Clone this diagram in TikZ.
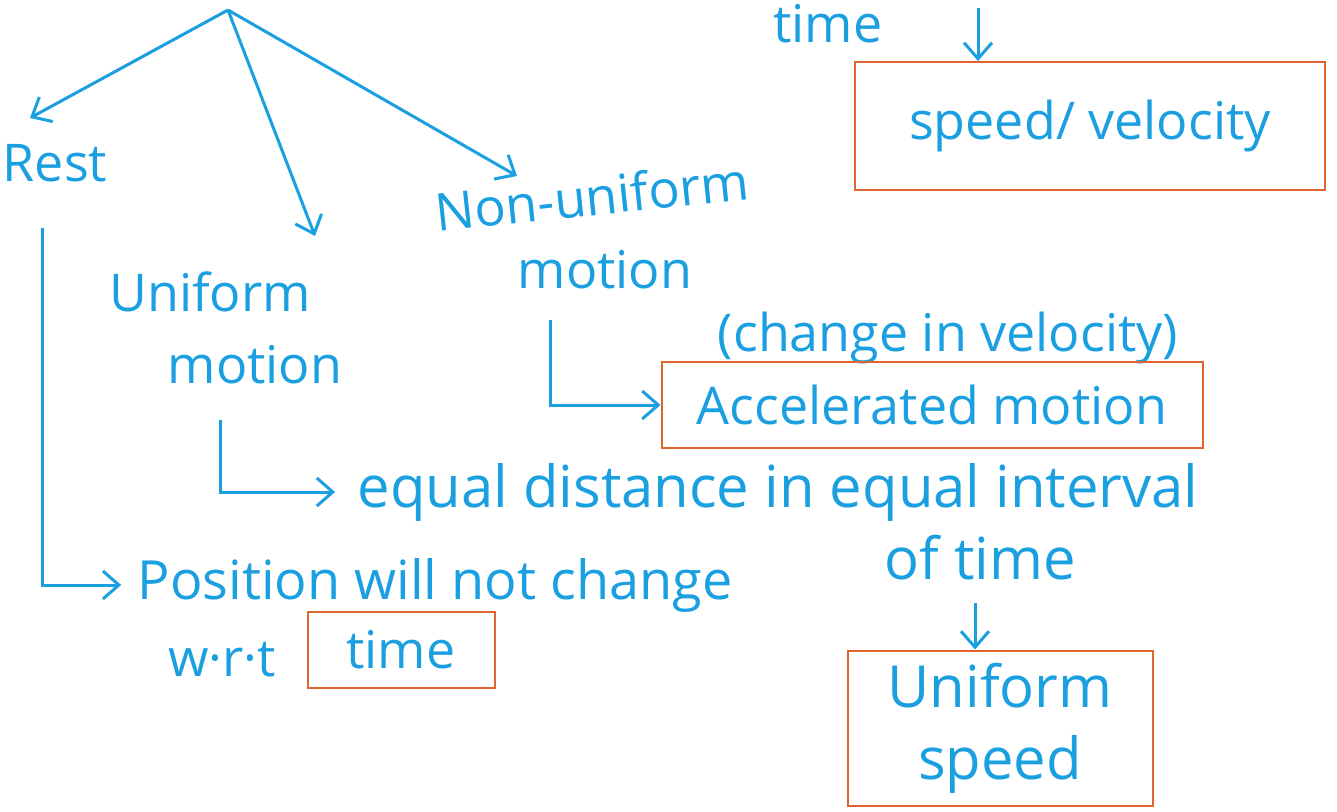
\documentclass[tikz,border=0pt]{standalone}
\usepackage{fontspec}
\setmainfont{Open Sans}
\usetikzlibrary{arrows.meta}
\definecolor{pen}{HTML}{1A9FE0}
\definecolor{marker}{HTML}{E0642E}
\begin{document}
\begin{tikzpicture}[x=0.5pt,y=-0.5pt,
 txt/.style={text=pen,font=\fontsize{26}{36}\selectfont,inner sep=0pt},
 big/.style={font=\fontsize{29}{36}\selectfont},
 arr/.style={draw=pen,line width=1.5pt,-{Straight Barb[length=8pt,width=14pt]}},
 box/.style={draw=marker,line width=1pt},
]
\useasboundingbox (0,0) rectangle (1337,812);
% top branch
\coordinate (root) at (228,10);
\node[txt] (rest) at (55,163) {Rest};
\node[txt] (uni1) at (210,292) {Uniform};
\node[txt] (uni2) at (255,365) {motion};
\node[txt,rotate=6] (non1) at (592,196) {Non-uniform};
\node[txt] (non2) at (605,270) {motion};
\coordinate (rtip) at (30,118);
\coordinate (utip) at (315,236);
\coordinate (ntip) at (517,176);
\draw[arr] (root) -- (rtip);
\draw[arr] (root) -- (utip);
\draw[arr] (root) -- (ntip);
% top right
\node[txt] (timetop) at (828,24) {time};
\node[box,txt,minimum width=235pt,minimum height=64pt] (speed) at (1090,126) {speed/ velocity};
\coordinate (ttop) at (978,8);
\draw[arr] (ttop) -- (ttop |- speed.north);
% non-uniform branch
\node[txt] (chg) at (948,338) {(change in velocity)};
\node[box,txt,minimum width=270.5pt,minimum height=43pt] (acc) at (932,405) {Accelerated motion};
\coordinate (nondrop) at (550,320);
\draw[arr] (nondrop) |- (acc.west);
% uniform branch
\node[txt,big] (eq) at (778,492) {equal distance in equal interval};
\node[txt,big] (oft) at (980,558) {of time};
\coordinate (unidrop) at (220,420);
\draw[arr] (unidrop) |- ([xshift=-11pt]eq.west);
\node[box,txt,big,align=center,minimum width=152.5pt,minimum height=77.5pt] (us) at (1000,728) {Uniform\\speed};
\coordinate (ofdrop) at (975,603);
\draw[arr] (ofdrop) -- (ofdrop |- us.north);
% rest branch
\node[txt,font=\fontsize{27}{36}\selectfont] (pos) at (435,585) {Position will not change};
\node[txt] (wrt) at (222,660) {w·r·t};
\node[box,txt,minimum width=93.5pt,minimum height=38pt] (tbox) at (401,650) {time};
\coordinate (restdrop) at (42,228);
\draw[arr] (restdrop) |- ([xshift=-8pt]pos.west);
\end{tikzpicture}
\end{document}
